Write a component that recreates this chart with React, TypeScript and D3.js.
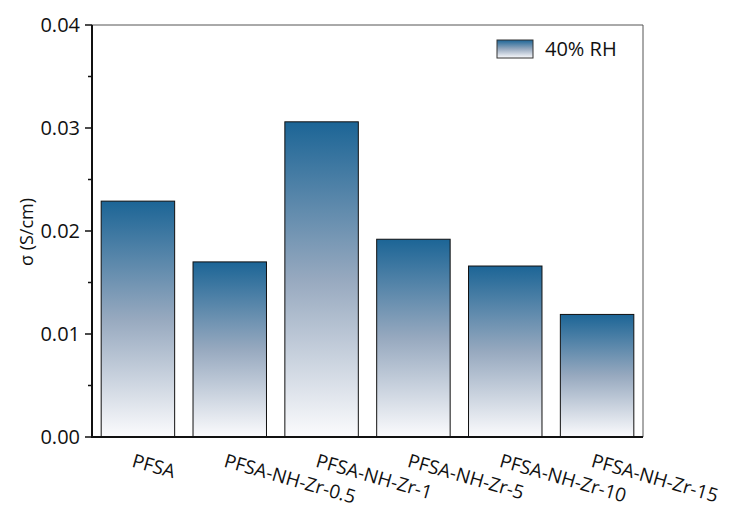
import React from "react";
import * as d3 from "d3";

const categories = ["PFSA", "PFSA-NH-Zr-0.5", "PFSA-NH-Zr-1", "PFSA-NH-Zr-5", "PFSA-NH-Zr-10", "PFSA-NH-Zr-15"];
const values = [0.0229, 0.0170, 0.0306, 0.0192, 0.0166, 0.0119];
const yTicks = [0, 0.01, 0.02, 0.03, 0.04];
const yMinorTicks = [0.005, 0.015, 0.025, 0.035];
const seriesName = "40% RH";

export default function App() {
  const W = 735, H = 506;
  const left = 92, right = 643, top = 25, bottom = 437;
  const x = d3.scaleBand<string>().domain(categories).range([left, right]).paddingInner(0.2).paddingOuter(0.1);
  const y = d3.scaleLinear().domain([0, 0.04]).range([bottom, top]);
  const font = "'Open Sans', 'DejaVu Sans', sans-serif";
  return (
    <svg width={W} height={H} style={{ position: "absolute", left: 0, top: 0, background: "#fff" }}>
      <defs>
        <linearGradient id="g" x1="0" y1="0" x2="0" y2="1">
          <stop offset="0" stopColor="#1c6596" />
          <stop offset="0.5" stopColor="#97a9bf" />
          <stop offset="1" stopColor="#fbfbfd" />
        </linearGradient>
      </defs>
      {/* frame top/right */}
      <line x1={left} x2={right} y1={top} y2={top} stroke="#555" strokeWidth={1} />
      <line x1={right} x2={right} y1={top} y2={bottom} stroke="#555" strokeWidth={1} />
      {categories.map((c, i) => (
        <rect key={c} x={x(c)} y={y(values[i])} width={x.bandwidth()} height={bottom - y(values[i])}
          fill="url(#g)" stroke="#111" strokeWidth={1} />
      ))}
      {/* axes */}
      <line x1={left} x2={left} y1={top} y2={bottom + 1} stroke="#111" strokeWidth={2} />
      <line x1={left - 1} x2={right} y1={bottom} y2={bottom} stroke="#111" strokeWidth={2} />
      {yTicks.map(t => (
        <g key={t}>
          <line x1={left - 7} x2={left} y1={y(t)} y2={y(t)} stroke="#111" strokeWidth={1.5} />
          <text x={left - 12} y={y(t)} dy="0.36em" textAnchor="end" fontFamily={font} fontSize={20} fill="#111">
            {d3.format(".2f")(t)}
          </text>
        </g>
      ))}
      {yMinorTicks.map(t => (
        <line key={t} x1={left - 4} x2={left} y1={y(t)} y2={y(t)} stroke="#111" strokeWidth={1.5} />
      ))}
      <text transform={`translate(33,${232}) rotate(-90)`} textAnchor="middle" fontFamily={font} fontSize={18} fill="#111">
        σ (S/cm)
      </text>
      {categories.map(c => (
        <text key={c} transform={`translate(${x(c)! + x.bandwidth() / 2 - 5},${bottom + 23}) rotate(16)`}
          fontFamily={font} fontSize={19} fill="#111" dy="0.35em">
          {c}
        </text>
      ))}
      {/* legend */}
      <rect x={497} y={40} width={36} height={18} fill="url(#g)" stroke="#333" strokeWidth={1} />
      <text x={545} y={49} dy="0.36em" fontFamily={font} fontSize={20} fill="#111">{seriesName}</text>
    </svg>
  );
}
